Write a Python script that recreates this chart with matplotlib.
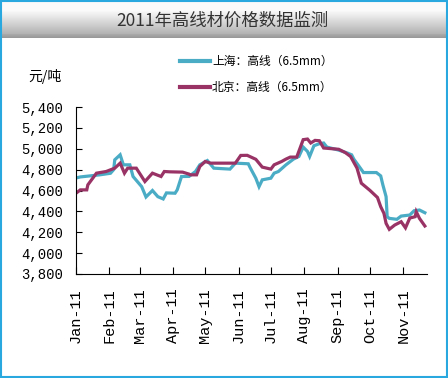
import numpy as np
import matplotlib
matplotlib.use('Agg')
import matplotlib.pyplot as plt
import matplotlib.dates as mdates
from matplotlib.patches import Rectangle

# データ（上海・北京 高線 6.5mm 価格）
sh_dates = ['2011-01-01', '2011-01-05', '2011-01-23', '2011-02-02', '2011-02-05', '2011-02-06',
            '2011-02-11', '2011-02-14', '2011-02-20', '2011-02-23', '2011-03-03', '2011-03-07',
            '2011-03-13', '2011-03-18', '2011-03-23', '2011-03-26', '2011-04-03', '2011-04-05',
            '2011-04-09', '2011-04-16', '2011-04-22', '2011-04-26', '2011-05-03', '2011-05-09',
            '2011-05-24', '2011-05-29', '2011-06-10', '2011-06-12', '2011-06-17', '2011-06-20',
            '2011-06-23', '2011-07-01', '2011-07-04', '2011-07-08', '2011-07-15', '2011-07-22',
            '2011-07-27', '2011-07-31', '2011-08-04', '2011-08-06', '2011-08-10', '2011-08-15',
            '2011-08-19', '2011-08-22', '2011-09-02', '2011-09-10', '2011-09-14', '2011-09-16',
            '2011-09-21', '2011-09-25', '2011-10-01', '2011-10-07', '2011-10-11', '2011-10-13',
            '2011-10-16', '2011-10-17', '2011-10-19', '2011-10-26', '2011-10-30', '2011-11-07',
            '2011-11-11', '2011-11-16', '2011-11-21']
sh_values = [4720, 4730, 4750, 4765, 4800, 4894,
             4942, 4846, 4846, 4734, 4637, 4538,
             4600, 4541, 4519, 4577, 4574, 4606,
             4734, 4735, 4782, 4846, 4887, 4814,
             4805, 4862, 4856, 4814, 4718, 4637,
             4702, 4718, 4766, 4782, 4846, 4901,
             4926, 5016, 4974, 4926, 5029, 5048,
             5055, 5016, 4987, 4959, 4942, 4901,
             4830, 4772, 4772, 4772, 4740, 4654,
             4541, 4349, 4333, 4324, 4355, 4365,
             4406, 4413, 4387]

bj_dates = ['2011-01-01', '2011-01-05', '2011-01-11', '2011-01-12', '2011-01-20', '2011-01-29',
            '2011-02-06', '2011-02-11', '2011-02-15', '2011-02-18', '2011-02-26', '2011-03-06',
            '2011-03-13', '2011-03-21', '2011-03-24', '2011-03-29', '2011-04-10', '2011-04-16',
            '2011-04-17', '2011-04-23', '2011-04-26', '2011-05-01', '2011-05-06', '2011-05-29',
            '2011-06-03', '2011-06-09', '2011-06-17', '2011-06-23', '2011-07-01', '2011-07-04',
            '2011-07-11', '2011-07-15', '2011-07-19', '2011-07-25', '2011-07-31', '2011-08-04',
            '2011-08-07', '2011-08-11', '2011-08-15', '2011-08-19', '2011-09-02', '2011-09-08',
            '2011-09-13', '2011-09-19', '2011-09-23', '2011-10-01', '2011-10-08', '2011-10-11',
            '2011-10-14', '2011-10-16', '2011-10-19', '2011-10-24', '2011-10-30', '2011-11-03',
            '2011-11-07', '2011-11-12', '2011-11-13', '2011-11-16', '2011-11-21']
bj_values = [4574, 4606, 4606, 4654, 4766, 4782,
             4814, 4862, 4766, 4814, 4814, 4686,
             4766, 4734, 4782, 4779, 4776, 4757,
             4750, 4750, 4830, 4878, 4862, 4862,
             4936, 4937, 4899, 4824, 4805, 4846,
             4878, 4901, 4920, 4920, 5087, 5093,
             5055, 5080, 5077, 5007, 4995, 4964,
             4926, 4814, 4670, 4601, 4533, 4445,
             4381, 4285, 4228, 4269, 4301, 4242,
             4336, 4349, 4397, 4333, 4260]

title = '2011年高线材价格数据监测'
unit = '元/吨'
sh_label = '上海：高线（6.5mm）'
bj_label = '北京：高线（6.5mm）'
y_ticks = [3800, 4000, 4200, 4400, 4600, 4800, 5000, 5200, 5400]

cjk = ['Noto Sans CJK SC', 'DejaVu Sans']
mono = ['Liberation Mono', 'DejaVu Sans Mono']
c_sh = '#4bacc6'
c_bj = '#993366'

W, H = 448, 378
fig = plt.figure(figsize=(W / 100, H / 100), dpi=100)

# タイトルのグラデーション帯
band = fig.add_axes([2 / W, 1 - 38 / H, 444 / W, 36 / H])
grad = np.concatenate([np.full(8, 0.98), np.linspace(0.98, 0.70, 24), np.linspace(0.66, 0.60, 4)])
band.imshow(grad.reshape(-1, 1), cmap='gray', vmin=0, vmax=1, aspect='auto',
            extent=[0, 1, 0, 1])
band.set_axis_off()
fig.text(222 / W, 1 - 21 / H, title, ha='center', va='center', fontsize=12.5,
         color='#333333', family=cjk)

# 外枠
fig.patches.append(Rectangle((0.6 / W, 0.6 / H), (W - 2) / W, (H - 2) / H,
                             transform=fig.transFigure, fill=False,
                             edgecolor='#29a8e0', linewidth=1.5, zorder=10))

# グラフ本体
ax = fig.add_axes([76 / W, 1 - 274 / H, 351 / W, 167 / H])
ax.plot(np.array(sh_dates, dtype='datetime64[D]'), sh_values, color=c_sh, lw=2.3,
        solid_joinstyle='miter')
ax.plot(np.array(bj_dates, dtype='datetime64[D]'), bj_values, color=c_bj, lw=2.3,
        solid_joinstyle='miter')

ax.set_ylim(3800, 5400)
ax.set_yticks(y_ticks)
ax.set_yticklabels(['{:,}'.format(v) for v in y_ticks], family=mono, fontsize=10)
ax.set_xlim(np.datetime64('2011-01-01'), np.datetime64('2011-11-23'))
ax.xaxis.set_major_locator(mdates.MonthLocator())
ax.xaxis.set_major_formatter(mdates.DateFormatter('%b-%y'))
for lab in ax.get_xticklabels():
    lab.set_family(mono)
    lab.set_fontsize(11)
    lab.set_rotation(90)
ax.tick_params(axis='x', direction='in', length=5, pad=10)
ax.tick_params(axis='y', direction='in', length=4, pad=9)
for s in ['top', 'right']:
    ax.spines[s].set_visible(False)

# 凡例と単位
fig.text(28 / W, 1 - 77 / H, unit, ha='left', va='center', fontsize=10, family=cjk)
fig.add_artist(plt.Line2D([180 / W, 210 / W], [1 - 61 / H, 1 - 61 / H], color=c_sh, lw=3))
fig.add_artist(plt.Line2D([180 / W, 210 / W], [1 - 87 / H, 1 - 87 / H], color=c_bj, lw=3))
fig.text(212 / W, 1 - 61 / H, sh_label, ha='left', va='center', fontsize=8.5, family=cjk)
fig.text(212 / W, 1 - 87 / H, bj_label, ha='left', va='center', fontsize=8.5, family=cjk)

fig.savefig('out.png', dpi=100)
